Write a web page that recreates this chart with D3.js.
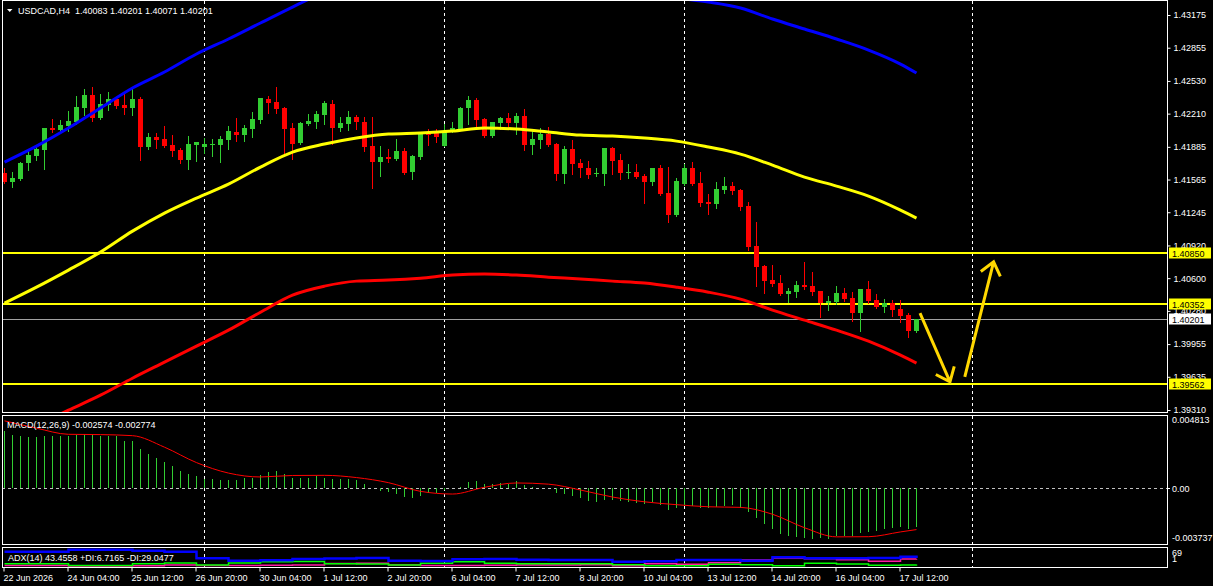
<!DOCTYPE html>
<html>
<head>
<meta charset="utf-8">
<script src="https://cdn.jsdelivr.net/npm/d3@7"></script>
<style>
body { margin: 0; background: #000; }
svg { display: block; font-family: "Liberation Sans", Arial, sans-serif; }
</style>
</head>
<body>
<div id="app"></div>
<script>
// ---- data (H4 bars, index 0 = leftmost visible bar) ----
var barOpen = [1.41628,1.41540,1.41569,1.41726,1.41794,1.41853,1.42069,1.42049,1.42088,1.42128,
  1.42265,1.42392,1.42167,1.42294,1.42353,1.42294,1.42265,1.42353,1.41883,1.41981,
  1.41961,1.41902,1.41853,1.41755,1.41902,1.41883,1.41902,1.41902,1.41951,1.42030,
  1.42000,1.42059,1.42147,1.42353,1.42323,1.42265,1.42069,1.41922,1.42108,1.42128,
  1.42196,1.42304,1.42069,1.42108,1.42177,1.42128,1.41892,1.41736,1.41785,1.41765,
  1.41843,1.41638,1.41785,1.42020,1.42020,1.41892,1.42039,1.42059,1.42265,1.42343,
  1.42157,1.41990,1.42118,1.42167,1.42118,1.42186,1.41902,1.41951,1.42010,1.41912,
  1.41618,1.41863,1.41726,1.41677,1.41618,1.41618,1.41873,1.41755,1.41628,1.41638,
  1.41599,1.41540,1.41677,1.41432,1.41217,1.41520,1.41677,1.41530,1.41344,1.41325,
  1.41462,1.41501,1.41462,1.41305,1.40914,1.40718,1.40581,1.40552,1.40444,1.40463,
  1.40532,1.40522,1.40473,1.40356,1.40366,1.40454,1.40405,1.40258,1.40493,1.40385,
  1.40317,1.40356,1.40297,1.40238,1.40083];
var barHigh = [1.41677,1.41638,1.41736,1.41853,1.41902,1.42069,1.42157,1.42147,1.42235,1.42382,
  1.42451,1.42470,1.42402,1.42421,1.42363,1.42421,1.42470,1.42372,1.42020,1.42020,
  1.42088,1.42000,1.41873,1.41990,1.41932,1.41971,1.41961,1.41990,1.42088,1.42167,
  1.42098,1.42225,1.42363,1.42382,1.42470,1.42274,1.42118,1.42128,1.42206,1.42235,
  1.42333,1.42343,1.42177,1.42235,1.42196,1.42177,1.42177,1.41892,1.41863,1.41961,
  1.41873,1.41804,1.42030,1.42059,1.42059,1.42108,1.42128,1.42274,1.42382,1.42363,
  1.42167,1.42130,1.42177,1.42216,1.42216,1.42255,1.42049,1.42069,1.42079,1.41922,
  1.41892,1.41951,1.41765,1.41746,1.41677,1.41875,1.41883,1.41814,1.41716,1.41716,
  1.41618,1.41680,1.41706,1.41687,1.41579,1.41716,1.41736,1.41638,1.41423,1.41540,
  1.41589,1.41540,1.41471,1.41344,1.41149,1.40728,1.40728,1.40630,1.40502,1.40571,
  1.40757,1.40659,1.40475,1.40424,1.40522,1.40502,1.40463,1.40495,1.40571,1.40444,
  1.40395,1.40385,1.40385,1.40258,1.40201];
var barLow = [1.41530,1.41491,1.41565,1.41657,1.41755,1.41667,1.42030,1.42020,1.42039,1.42108,
  1.42196,1.42137,1.42160,1.42245,1.42265,1.42206,1.42196,1.41755,1.41863,1.41873,
  1.41883,1.41794,1.41726,1.41667,1.41746,1.41824,1.41794,1.41736,1.41863,1.41941,
  1.41941,1.41981,1.42118,1.42216,1.42216,1.41814,1.41765,1.41912,1.42098,1.42069,
  1.42108,1.41912,1.42039,1.42049,1.42059,1.41843,1.41481,1.41599,1.41736,1.41755,
  1.41618,1.41569,1.41765,1.41902,1.41932,1.41890,1.42030,1.42049,1.42108,1.42088,
  1.41985,1.41981,1.42059,1.42069,1.42010,1.41853,1.41814,1.41873,1.41892,1.41560,
  1.41530,1.41618,1.41589,1.41579,1.41599,1.41511,1.41618,1.41569,1.41579,1.41579,
  1.41335,1.41511,1.41413,1.41149,1.41207,1.41511,1.41511,1.41305,1.41227,1.41286,
  1.41432,1.41423,1.41266,1.40875,1.40522,1.40454,1.40522,1.40440,1.40366,1.40414,
  1.40493,1.40434,1.40219,1.40287,1.40346,1.40375,1.40179,1.40082,1.40356,1.40307,
  1.40268,1.40228,1.40170,1.40023,1.40071];
var barClose = [1.41540,1.41579,1.41726,1.41804,1.41863,1.42069,1.42049,1.42098,1.42137,1.42274,
  1.42392,1.42167,1.42304,1.42353,1.42284,1.42265,1.42353,1.41883,1.41981,1.41951,
  1.41892,1.41843,1.41755,1.41912,1.41932,1.41912,1.41912,1.41961,1.42039,1.42000,
  1.42069,1.42157,1.42363,1.42314,1.42255,1.42059,1.41912,1.42118,1.42137,1.42206,
  1.42314,1.42069,1.42118,1.42177,1.42128,1.41883,1.41736,1.41785,1.41765,1.41843,
  1.41628,1.41794,1.42020,1.42000,1.41981,1.42039,1.42069,1.42265,1.42343,1.42147,
  1.41990,1.42128,1.42167,1.42118,1.42186,1.41902,1.41961,1.42010,1.41902,1.41618,
  1.41863,1.41716,1.41677,1.41608,1.41628,1.41873,1.41746,1.41628,1.41638,1.41589,
  1.41540,1.41677,1.41423,1.41217,1.41550,1.41677,1.41520,1.41335,1.41325,1.41471,
  1.41501,1.41452,1.41296,1.40904,1.40708,1.40571,1.40542,1.40444,1.40473,1.40532,
  1.40512,1.40463,1.40356,1.40375,1.40454,1.40395,1.40258,1.40493,1.40375,1.40317,
  1.40356,1.40287,1.40228,1.40083,1.40201];

// moving averages, read every 4 bars
var maIdx = [0,4,8,12,16,20,24,28,32,36,40,44,48,52,56,60,64,68,72,76,80,84,88,92,96,100,104,108,112,114];
var maBlue = [1.41736,1.41892,1.42069,1.42265,1.42461,1.42617,1.42793,1.42940,1.43097,1.43253,
  1.43400,1.43518,1.43596,1.43645,1.43665,1.43665,1.43635,1.43586,1.43518,1.43449,
  1.43391,1.43342,1.43302,1.43244,1.43136,1.43038,1.42940,1.42832,1.42695,1.42607];
var maYellow = [1.40356,1.40512,1.40679,1.40855,1.41060,1.41237,1.41384,1.41520,1.41687,1.41834,
  1.41912,1.41971,1.42010,1.42020,1.42039,1.42069,1.42059,1.42030,1.42000,1.41990,
  1.41971,1.41941,1.41883,1.41814,1.41706,1.41589,1.41501,1.41403,1.41266,1.41188];
var maRed = [1.39014,1.39161,1.39308,1.39455,1.39621,1.39778,1.39935,1.40091,1.40267,1.40434,
  1.40522,1.40571,1.40581,1.40600,1.40630,1.40640,1.40630,1.40610,1.40591,1.40571,
  1.40552,1.40512,1.40463,1.40395,1.40287,1.40189,1.40091,1.39983,1.39846,1.39768];

// MACD(12,26,9)
var macdHist = [0.00379,0.00356,0.00345,0.00339,0.00339,0.00345,0.00345,0.00345,0.00345,0.00356,
  0.00363,0.00363,0.00345,0.00345,0.00345,0.00316,0.00312,0.00263,0.00229,0.00200,
  0.00174,0.00145,0.00111,0.00094,0.00082,0.00062,0.00062,0.00056,0.00056,0.00056,
  0.00067,0.00069,0.00089,0.00105,0.00111,0.00096,0.00069,0.00069,0.00069,0.00078,
  0.00069,0.00062,0.00062,0.00062,0.00056,0.00029,0.00002,-0.00018,-0.00029,-0.00040,
  -0.00058,-0.00065,-0.00051,-0.00035,-0.00030,-0.00011,0.00002,0.00005,0.00040,0.00044,
  0.00030,0.00030,0.00037,0.00030,0.00044,0.00021,0.00007,0.00001,0.00000,-0.00030,
  -0.00040,-0.00053,-0.00067,-0.00086,-0.00093,-0.00081,-0.00081,-0.00088,-0.00095,-0.00102,
  -0.00109,-0.00095,-0.00116,-0.00144,-0.00134,-0.00116,-0.00120,-0.00130,-0.00131,-0.00125,
  -0.00120,-0.00116,-0.00130,-0.00157,-0.00197,-0.00239,-0.00273,-0.00305,-0.00322,-0.00329,
  -0.00336,-0.00340,-0.00336,-0.00343,-0.00322,-0.00322,-0.00322,-0.00303,-0.00296,-0.00287,
  -0.00273,-0.00269,-0.00262,-0.00271,-0.002574];
var macdSignal = [0.00449,0.00400,0.00359,0.00357,0.00350,0.00273,0.00170,0.00100,0.00074,0.00084,
  0.00085,0.00070,0.00036,-0.00022,-0.00040,0.00005,0.00034,0.00026,-0.00013,-0.00060,
  -0.00092,-0.00111,-0.00125,-0.00129,-0.00175,-0.00265,-0.00326,-0.00325,-0.00293,-0.002774];

// ADX(14), read every 4 bars
var adxMain = [58,58,66,66,62,58,32,22,24,29,31,33,22,21,28,29,26,25,25,18,20,25,25,22,36,32,32,33,38,43.4558];
var adxPlus = [10,10,3,3,10,13,5,13,18,19,10,9,5,12,18,12,10,10,10,6,2,2,8,6,2,12,9,4,5,6.7165];
var adxMinus = [3,3,1,1,2,5,3,3,4,5,11,12,5,3,3,4,5,5,6,2,10,8,14,25,33,30,26,20,29,29.0477];

// axes
var priceTicks = [1.43175,1.42855,1.42530,1.42210,1.41885,1.41565,1.41245,1.40920,1.40600,1.40280,1.39955,1.39635,1.39310];
var timeIdx = [0,8,16,24,32,40,48,56,64,72,80,88,96,104,112];
var timeLabels = ["22 Jun 2026","24 Jun 04:00","25 Jun 12:00","26 Jun 20:00","30 Jun 04:00","1 Jul 12:00",
  "2 Jul 20:00","6 Jul 04:00","7 Jul 12:00","8 Jul 20:00","10 Jul 04:00","13 Jul 12:00","14 Jul 20:00",
  "16 Jul 04:00","17 Jul 12:00"];
var gridBars = [25, 55, 85, 121];

// levels and arrows drawn on the chart
var levelPrices = [1.40850, 1.40352, 1.39562];
var bidPrice = 1.40201;
var arrowStartBar = [114.5, 120.1], arrowStartPrice = [1.40258, 1.39634];
var arrowEndBar = [118.25, 123.7], arrowEndPrice = [1.39585, 1.40760];

// ---- layout ----
var W = 1213, H = 586;
var left = 2, right = 1167;
var panes = {
  main: {top: 0, bottom: 412},
  macd: {top: 415, bottom: 544},
  adx: {top: 547, bottom: 567}
};
var upColor = "#32cd32", downColor = "#ff0000";

var svg = d3.select("#app").append("svg")
  .attr("width", W).attr("height", H);
svg.append("rect").attr("width", W).attr("height", H).attr("fill", "#000");

var x = d3.scaleLinear().domain([0, 1]).range([4, 12]);
var y = d3.scaleLinear().domain([1.39310, 1.43175]).range([410, 15]);
var yM = d3.scaleLinear().domain([-0.003737, 0.004813]).range([544, 416]);
var yA = d3.scaleLinear().domain([1, 69]).range([566, 549]);

var defs = svg.append("defs");
Object.keys(panes).forEach(function(k) {
  var p = panes[k];
  defs.append("clipPath").attr("id", "clip-" + k)
    .append("rect")
    .attr("x", left + 1).attr("y", p.top + 1)
    .attr("width", right - left - 1).attr("height", p.bottom - p.top - 1);
});

// vertical grid
Object.keys(panes).forEach(function(k) {
  var p = panes[k];
  svg.append("g").selectAll("line").data(gridBars).join("line")
    .attr("x1", d => Math.round(x(d)) + 0.5).attr("x2", d => Math.round(x(d)) + 0.5)
    .attr("y1", p.top + 1).attr("y2", p.bottom)
    .attr("stroke", "#fff").attr("stroke-dasharray", "3,3");
});

// ---- main pane ----
var main = svg.append("g").attr("clip-path", "url(#clip-main)");

// bid line
main.append("line")
  .attr("x1", left).attr("x2", right)
  .attr("y1", Math.round(y(bidPrice)) + 0.5).attr("y2", Math.round(y(bidPrice)) + 0.5)
  .attr("stroke", "#a0a0a0");

// horizontal levels
main.append("g").selectAll("line").data(levelPrices).join("line")
  .attr("x1", left).attr("x2", right)
  .attr("y1", d => Math.round(y(d))).attr("y2", d => Math.round(y(d)))
  .attr("stroke", "#ffff00").attr("stroke-width", 2);

// candles
var bars = barOpen.map(function(o, i) {
  return {i: i, o: o, h: barHigh[i], l: barLow[i], c: barClose[i]};
});
var candles = main.append("g").attr("shape-rendering", "crispEdges");
candles.selectAll("line").data(bars).join("line")
  .attr("x1", d => x(d.i) + 0.5).attr("x2", d => x(d.i) + 0.5)
  .attr("y1", d => Math.round(y(d.h))).attr("y2", d => Math.round(y(d.l)) + 1)
  .attr("stroke", d => d.c >= d.o ? upColor : downColor);
candles.selectAll("rect").data(bars).join("rect")
  .attr("x", d => x(d.i) - 2).attr("width", 5)
  .attr("y", d => Math.round(y(Math.max(d.o, d.c))))
  .attr("height", d => Math.max(1, Math.round(Math.abs(y(d.o) - y(d.c)))))
  .attr("fill", d => d.c >= d.o ? upColor : downColor);

// moving averages
function maLine(vals) {
  return d3.line()
    .x((d, k) => x(maIdx[k]) + 0.5)
    .y(d => y(d))
    .curve(d3.curveMonotoneX)(vals);
}
[[maRed, "#ff0000"], [maYellow, "#ffff00"], [maBlue, "#0000ff"]].forEach(function(m) {
  main.append("path").attr("d", maLine(m[0]))
    .attr("fill", "none").attr("stroke", m[1]).attr("stroke-width", 3);
});

// arrows
arrowStartBar.forEach(function(b, k) {
  var x1 = x(b), y1 = y(arrowStartPrice[k]);
  var x2 = x(arrowEndBar[k]), y2 = y(arrowEndPrice[k]);
  var ang = Math.atan2(y1 - y2, x1 - x2), len = 16, spread = 0.68;
  var w1 = [x2 + len * Math.cos(ang - spread), y2 + len * Math.sin(ang - spread)];
  var w2 = [x2 + len * Math.cos(ang + spread), y2 + len * Math.sin(ang + spread)];
  main.append("path")
    .attr("d", "M" + x1 + "," + y1 + "L" + x2 + "," + y2 +
      "M" + w1 + "L" + x2 + "," + y2 + "L" + w2)
    .attr("fill", "none").attr("stroke", "#ffd700").attr("stroke-width", 3)
    .attr("stroke-linejoin", "miter");
});

// title
svg.append("path").attr("d", "M7,9L12.5,9L9.75,12Z").attr("fill", "#fff");
svg.append("text").attr("x", 18).attr("y", 14)
  .style("white-space", "pre").attr("font-size", 9).attr("fill", "#fff")
  .text("USDCAD,H4  1.40083 1.40201 1.40071 1.40201");

// ---- MACD pane ----
var macd = svg.append("g").attr("clip-path", "url(#clip-macd)");
macd.append("line")
  .attr("x1", left).attr("x2", right)
  .attr("y1", Math.round(yM(0)) + 0.5).attr("y2", Math.round(yM(0)) + 0.5)
  .attr("stroke", "#c0c0c0").attr("stroke-dasharray", "3,3");
macd.append("g").attr("shape-rendering", "crispEdges")
  .selectAll("line").data(macdHist).join("line")
  .attr("x1", (d, i) => x(i) + 0.5).attr("x2", (d, i) => x(i) + 0.5)
  .attr("y1", Math.round(yM(0))).attr("y2", d => Math.round(yM(d)))
  .attr("stroke", upColor);
macd.append("path")
  .attr("d", d3.line().x((d, k) => x(maIdx[k]) + 0.5).y(d => yM(d)).curve(d3.curveMonotoneX)(macdSignal))
  .attr("fill", "none").attr("stroke", "#ff0000").attr("stroke-width", 1);
svg.append("text").attr("x", 7).attr("y", 428).attr("font-size", 9).attr("fill", "#fff")
  .text("MACD(12,26,9) -0.002574 -0.002774");

// ---- ADX pane ----
var adx = svg.append("g").attr("clip-path", "url(#clip-adx)");
[[adxMinus, "#ff1aa0", 1.5], [adxPlus, "#00ff00", 1.5], [adxMain, "#0000ff", 2.5]].forEach(function(s) {
  adx.append("path")
    .attr("d", d3.line().x((d, k) => x(maIdx[k]) + 0.5).y(d => yA(d)).curve(d3.curveStepAfter)(s[0]))
    .attr("fill", "none").attr("stroke", s[1]).attr("stroke-width", s[2]);
});
svg.append("text").attr("x", 8).attr("y", 561).attr("font-size", 9).attr("fill", "#fff")
  .text("ADX(14) 43.4558 +DI:6.7165 -DI:29.0477");

// ---- pane borders ----
Object.keys(panes).forEach(function(k) {
  var p = panes[k];
  svg.append("rect")
    .attr("x", left + 0.5).attr("y", p.top + 0.5)
    .attr("width", right - left).attr("height", p.bottom - p.top)
    .attr("fill", "none").attr("stroke", "#fff");
});

// ---- price axis ----
var axR = svg.append("g").attr("transform", "translate(" + (right + 0.5) + ",0)")
  .call(d3.axisRight(y).tickValues(priceTicks).tickFormat(d3.format(".5f")).tickSize(3).tickPadding(3));
axR.select(".domain").remove();
axR.selectAll("line").attr("stroke", "#fff");
axR.selectAll("text").attr("fill", "#fff").attr("font-size", 9)
  .attr("font-family", "'Liberation Sans', Arial, sans-serif");

// level boxes on the axis
var boxes = levelPrices.map(p => ({p: p, fill: "#ffff00"})).concat([{p: bidPrice, fill: "#ffffff"}]);
var boxG = svg.append("g").selectAll("g").data(boxes).join("g")
  .attr("transform", d => "translate(1169," + Math.round(y(d.p)) + ")");
boxG.append("rect").attr("x", 0).attr("y", -5.5).attr("width", 42).attr("height", 11)
  .attr("fill", d => d.fill);
boxG.append("text").attr("x", 3).attr("y", 3.5).attr("font-size", 9).attr("fill", "#000")
  .text(d => d3.format(".5f")(d.p));

// MACD / ADX scale labels
var sideLabels = [
  {t: "0.004813", yv: yM(0.004813) + 7},
  {t: "0.00", yv: yM(0) + 3.5},
  {t: "-0.003737", yv: yM(-0.003737) - 3.5},
  {t: "69", yv: yA(69) + 7},
  {t: "1", yv: yA(1) - 4}
];
svg.append("g").selectAll("text").data(sideLabels).join("text")
  .attr("x", 1172).attr("y", d => d.yv).attr("font-size", 9).attr("fill", "#fff")
  .text(d => d.t);
svg.append("line").attr("x1", right).attr("x2", right + 3)
  .attr("y1", Math.round(yM(0)) + 0.5).attr("y2", Math.round(yM(0)) + 0.5).attr("stroke", "#fff");

// ---- time axis ----
var axB = svg.append("g").attr("transform", "translate(0," + (panes.adx.bottom + 0.5) + ")")
  .call(d3.axisBottom(x).tickValues(timeIdx).tickFormat((d, k) => timeLabels[k]).tickSize(4).tickPadding(3));
axB.select(".domain").remove();
axB.selectAll("line").attr("stroke", "#fff").attr("transform", "translate(-0.5,0)");
axB.selectAll("text").attr("fill", "#fff").attr("font-size", 9).attr("text-anchor", "start")
  .attr("dx", -1).attr("font-family", "'Liberation Sans', Arial, sans-serif");
</script>
</body>
</html>
